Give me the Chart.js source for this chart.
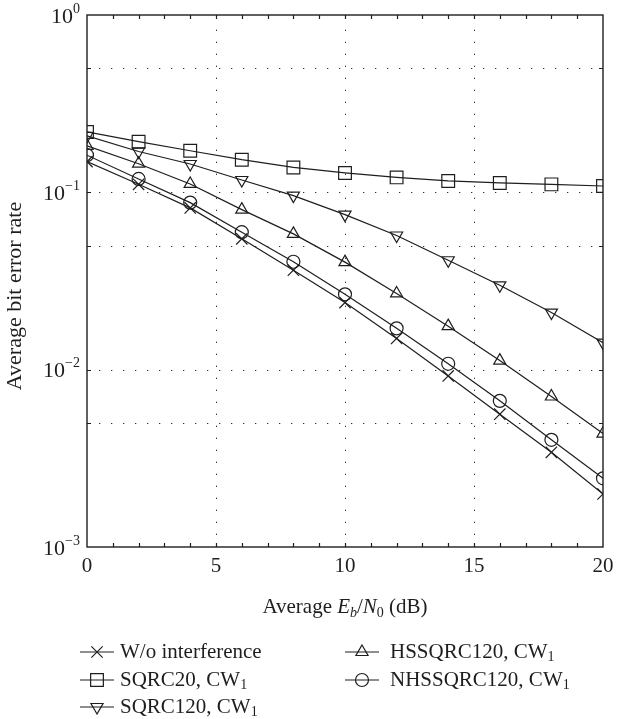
<!DOCTYPE html>
<html>
<head>
<meta charset="utf-8">
<title>Average bit error rate vs Eb/N0</title>
<script src="https://cdn.jsdelivr.net/npm/chart.js@4.4.1/dist/chart.umd.min.js"></script>
<style>
  html, body { margin: 0; padding: 0; background: #fff; }
  #ber { display: block; }
</style>
</head>
<body>
<canvas id="ber" width="617" height="719"></canvas>
<script>
// Eb/N0 values (dB) where the curves were sampled
const ebn0 = [0, 2, 4, 6, 8, 10, 12, 14, 16, 18, 20];

// BER curves
const berNoInterference = [0.149, 0.111, 0.0817, 0.0547, 0.0364, 0.0239, 0.0150, 0.00922, 0.00561, 0.00342, 0.00199];
const berSqrc20 = [0.219, 0.193, 0.1716, 0.1528, 0.1382, 0.1286, 0.1214, 0.1159, 0.1130, 0.1109, 0.1086];
const berSqrc120 = [0.208, 0.170, 0.1445, 0.1174, 0.0958, 0.0749, 0.0571, 0.0414, 0.0299, 0.0210, 0.0142];
const berHssqrc120 = [0.183, 0.145, 0.1115, 0.0799, 0.0583, 0.0404, 0.0269, 0.0176, 0.01125, 0.00706, 0.00436];
const berNhssqrc120 = [0.162, 0.119, 0.0875, 0.0596, 0.0406, 0.0266, 0.0171, 0.0108, 0.00667, 0.00402, 0.00244];

// legend text (the "1" is drawn as a subscript)
const legendNames = ['W/o interference', 'SQRC20, CW', 'SQRC120, CW', 'HSSQRC120, CW', 'NHSSQRC120, CW'];
const legendSubs = ['', '1', '1', '1', '1'];

// axis ticks
const xTickLabels = [0, 5, 10, 15, 20];
const xMinorTicks = [1, 2, 3, 4, 5, 6, 7, 8, 9, 10, 11, 12, 13, 14, 15, 16, 17, 18, 19];
const yDecades = [-3, -2, -1, 0];
const yGridValues = [0.005, 0.01, 0.05, 0.1, 0.5];

const ink = '#1e1e1e';
const serif = '"Liberation Serif", "Times New Roman", serif';

function toPoints(values) {
  return ebn0.map((x, i) => ({ x: x, y: values[i] }));
}

function series(label, values, style, radius, rotation) {
  return {
    label: label,
    data: toPoints(values),
    borderColor: ink,
    borderWidth: 1.2,
    pointStyle: style,
    pointRadius: radius,
    pointHoverRadius: radius,
    pointRotation: rotation || 0,
    pointBorderColor: ink,
    pointBorderWidth: 1.2,
    pointBackgroundColor: 'rgba(0,0,0,0)',
    tension: 0,
    fill: false
  };
}

// draws text pieces one after another (for sub/superscripts and italics)
function drawRuns(ctx, runs, x, y) {
  let cx = x;
  runs.forEach(r => {
    ctx.font = r.font;
    ctx.fillText(r.text, cx, y + (r.dy || 0));
    cx += ctx.measureText(r.text).width;
  });
}
function runsWidth(ctx, runs) {
  let w = 0;
  runs.forEach(r => { ctx.font = r.font; w += ctx.measureText(r.text).width; });
  return w;
}

function drawMarker(ctx, ds, x, y) {
  const opts = { pointStyle: ds.pointStyle, radius: ds.pointRadius, rotation: ds.pointRotation, borderWidth: ds.pointBorderWidth };
  if (Chart.helpers && Chart.helpers.drawPoint) {
    Chart.helpers.drawPoint(ctx, opts, x, y);
  }
}

const frame = {
  id: 'frame',
  beforeDatasetsDraw(chart) {
    const ctx = chart.ctx;
    const a = chart.chartArea;
    const xs = chart.scales.x, ys = chart.scales.y;
    ctx.save();
    // dotted grid
    ctx.strokeStyle = '#333';
    ctx.lineWidth = 1;
    ctx.setLineDash([1.3, 10.7]);
    xTickLabels.slice(1, -1).forEach(v => {
      const px = Math.round(xs.getPixelForValue(v)) + 0.5;
      ctx.beginPath(); ctx.moveTo(px, a.bottom); ctx.lineTo(px, a.top); ctx.stroke();
    });
    yGridValues.forEach(v => {
      const py = Math.round(ys.getPixelForValue(v)) + 0.5;
      ctx.beginPath(); ctx.moveTo(a.left, py); ctx.lineTo(a.right, py); ctx.stroke();
    });
    ctx.setLineDash([]);
    // inward tick marks
    ctx.strokeStyle = ink;
    ctx.lineWidth = 1.2;
    const t = 4;
    xMinorTicks.forEach(v => {
      const px = Math.round(xs.getPixelForValue(v)) + 0.5;
      ctx.beginPath();
      ctx.moveTo(px, a.bottom); ctx.lineTo(px, a.bottom - t);
      ctx.moveTo(px, a.top); ctx.lineTo(px, a.top + t);
      ctx.stroke();
    });
    yGridValues.forEach(v => {
      const py = Math.round(ys.getPixelForValue(v)) + 0.5;
      ctx.beginPath();
      ctx.moveTo(a.left, py); ctx.lineTo(a.left + t, py);
      ctx.moveTo(a.right, py); ctx.lineTo(a.right - t, py);
      ctx.stroke();
    });
    // box
    ctx.lineWidth = 1.4;
    ctx.strokeRect(a.left, a.top, a.right - a.left, a.bottom - a.top);
    ctx.restore();
  },
  afterDraw(chart) {
    const ctx = chart.ctx;
    const a = chart.chartArea;
    const xs = chart.scales.x, ys = chart.scales.y;
    ctx.save();
    ctx.fillStyle = ink;

    // x tick labels
    ctx.font = '21px ' + serif;
    ctx.textAlign = 'center';
    ctx.textBaseline = 'middle';
    xTickLabels.forEach(v => {
      ctx.fillText(String(v), xs.getPixelForValue(v), a.bottom + 19);
    });

    // y tick labels 10^n
    ctx.textAlign = 'left';
    yDecades.forEach(d => {
      const py = ys.getPixelForValue(Math.pow(10, d));
      const sup = d === 0 ? '0' : '\u2212' + Math.abs(d);
      const runs = [
        { text: '10', font: '22px ' + serif, dy: 2 },
        { text: sup, font: '14px ' + serif, dy: -6 }
      ];
      const w = runsWidth(ctx, runs);
      drawRuns(ctx, runs, a.left - 7 - w, py);
    });

    // x title: Average E_b/N_0 (dB)
    ctx.textBaseline = 'alphabetic';
    const tf = '21px ' + serif, ti = 'italic 21px ' + serif;
    const xTitle = [
      { text: 'Average ', font: tf },
      { text: 'E', font: ti },
      { text: 'b', font: 'italic 14px ' + serif, dy: 4 },
      { text: '/', font: tf },
      { text: 'N', font: ti },
      { text: '0', font: '14px ' + serif, dy: 4 },
      { text: ' (dB)', font: tf }
    ];
    const cx = (a.left + a.right) / 2;
    drawRuns(ctx, xTitle, cx - runsWidth(ctx, xTitle) / 2, 613);

    // y title
    ctx.save();
    ctx.translate(15, 296);
    ctx.rotate(-Math.PI / 2);
    ctx.font = '22px ' + serif;
    ctx.textAlign = 'center';
    ctx.textBaseline = 'middle';
    ctx.fillText('Average bit error rate', 0, 0);
    ctx.restore();

    // legend, two columns
    const cols = [80, 345];
    const textX = [120, 390];
    const rows = [652, 680, 707];
    const slots = [[0, 0], [0, 1], [0, 2], [1, 0], [1, 1]];
    ctx.textAlign = 'left';
    ctx.textBaseline = 'middle';
    chart.data.datasets.forEach((ds, i) => {
      const col = slots[i][0];
      const lx = cols[col], ly = rows[slots[i][1]];
      ctx.strokeStyle = ink;
      ctx.lineWidth = 1.2;
      ctx.beginPath(); ctx.moveTo(lx, ly); ctx.lineTo(lx + 34, ly); ctx.stroke();
      ctx.fillStyle = 'rgba(0,0,0,0)';
      drawMarker(ctx, ds, lx + 17, ly);
      ctx.fillStyle = ink;
      const runs = [{ text: legendNames[i], font: '21px ' + serif }];
      if (legendSubs[i]) runs.push({ text: legendSubs[i], font: '14px ' + serif, dy: 5 });
      drawRuns(ctx, runs, textX[col], ly);
    });
    ctx.restore();
  }
};

new Chart(document.getElementById('ber'), {
  type: 'line',
  data: {
    datasets: [
      series('W/o interference', berNoInterference, 'crossRot', 8),
      series('SQRC20, CW1', berSqrc20, 'rect', 9),
      series('SQRC120, CW1', berSqrc120, 'triangle', 7, 180),
      series('HSSQRC120, CW1', berHssqrc120, 'triangle', 7),
      series('NHSSQRC120, CW1', berNhssqrc120, 'circle', 6.5)
    ]
  },
  options: {
    responsive: false,
    animation: false,
    devicePixelRatio: 1,
    layout: { padding: { left: 87, right: 14, top: 15, bottom: 172 } },
    plugins: { legend: { display: false }, tooltip: { enabled: false } },
    scales: {
      x: { type: 'linear', min: 0, max: 20, display: false },
      y: { type: 'logarithmic', min: 0.001, max: 1, display: false }
    }
  },
  plugins: [frame]
});
</script>
</body>
</html>
